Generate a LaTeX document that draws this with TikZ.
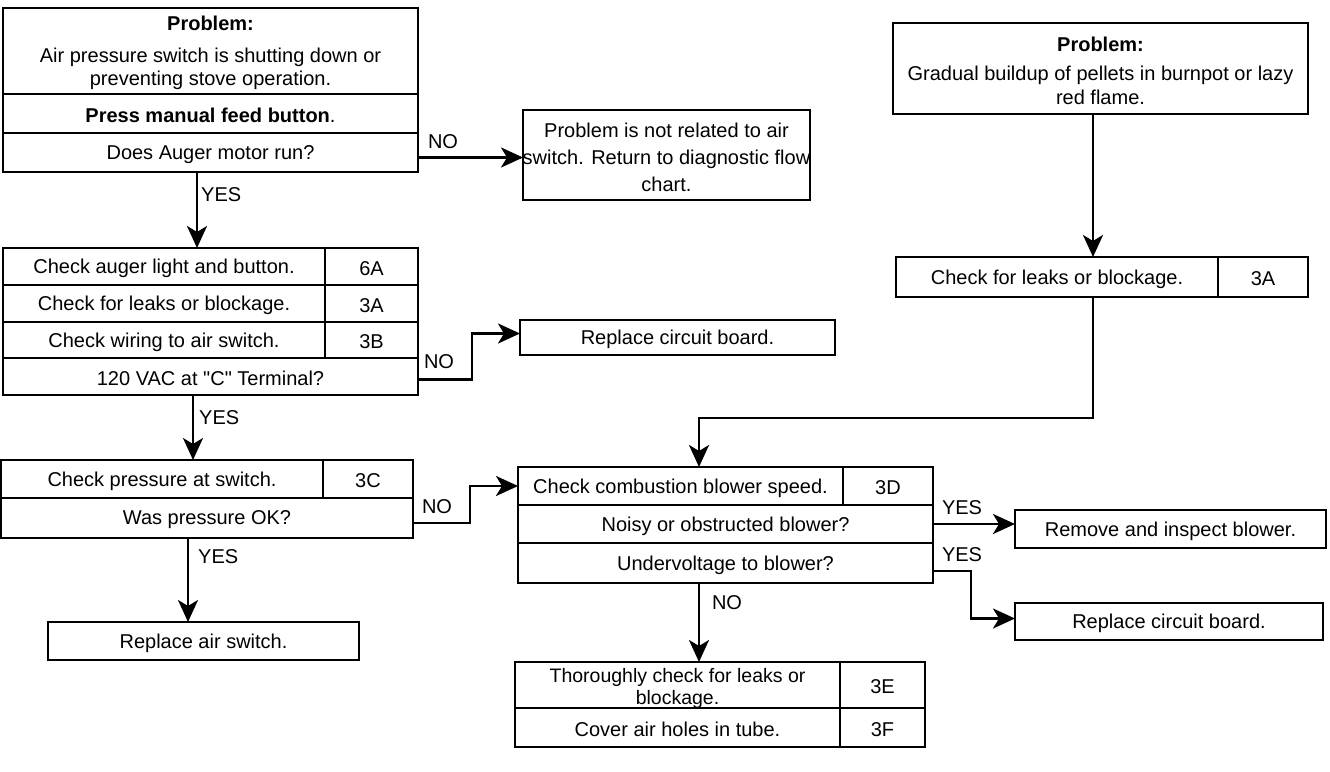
\documentclass[tikz,border=0pt]{standalone}
\usepackage{fontspec}
\setmainfont{Liberation Sans}[Ligatures=TeXOff]
\usetikzlibrary{arrows.meta,calc}
\newcommand\fs{\fontsize{20}{24}\selectfont}
\tikzset{
  cell/.style={draw, line width=1.3pt, inner sep=0pt, outer sep=0pt,
    anchor=north west},
  celltext/.style={font=\fs, align=center, inner sep=0pt},
  arr/.style={line width=2.8pt, line join=miter,
    -{Stealth[length=22pt,width=20pt,inset=6pt]}},
  lbl/.style={font=\fs, inner sep=0pt}
}
% box cell: [text options] name, left, top, width, height, text
\newcommand\cellbox[7][]{%
  \node[cell, minimum width=#5pt, minimum height=#6pt] (#2) at (#3,#4) {};
  \node[celltext, #1] (#2-t) at ([yshift=-2pt]#2.center) {#7};}
\begin{document}
\begin{tikzpicture}[x=1pt,y=-1pt]
\fill[white] (0,0) rectangle (1330,771);
\useasboundingbox (0,0) rectangle (1330,771);

% --- left column: air pressure switch problem
\cellbox[font=\fontsize{20}{23}\selectfont]{tlA}{3}{8}{415}{86}{\textbf{Problem:}\\[9pt]Air pressure switch is shutting down or\\preventing stove operation.}
\cellbox{tlB}{3}{94}{415}{39}{\textbf{Press manual feed button}.}
\cellbox{tlC}{3}{133}{415}{39}{Does Auger motor run?}

\cellbox[font=\fontsize{20}{27}\selectfont]{NR}{523}{110}{287}{90}{Problem is not related to air\\switch. Return to diagnostic flow\\chart.}

\cellbox{l2a}{3}{248}{322}{37}{Check auger light and button.}
\cellbox{l2aR}{325}{248}{93}{37}{6A}
\cellbox{l2b}{3}{285}{322}{37}{Check for leaks or blockage.}
\cellbox{l2bR}{325}{285}{93}{37}{3A}
\cellbox{l2c}{3}{322}{322}{36}{Check wiring to air switch.}
\cellbox{l2cR}{325}{322}{93}{36}{3B}
\cellbox{l2d}{3}{358}{415}{37}{120 VAC at "C" Terminal?}

\cellbox{RC1}{520}{320}{315}{35}{Replace circuit board.}

\cellbox{l3a}{1}{460}{322}{38}{Check pressure at switch.}
\cellbox{l3aR}{323}{460}{90}{38}{3C}
\cellbox{l3b}{1}{498}{412}{40}{Was pressure OK?}

\cellbox{RA}{48}{622}{311}{38}{Replace air switch.}

% --- right column: pellet buildup problem
\cellbox{RP}{893}{23}{415}{91}{\textbf{Problem:}\\[5pt]Gradual buildup of pellets in burnpot or lazy\\red flame.}
\cellbox{RLB}{896}{257}{322}{40}{Check for leaks or blockage.}
\cellbox{RLBn}{1218}{257}{90}{40}{3A}

% --- combustion blower checks
\cellbox{bla}{518}{467}{325}{38}{Check combustion blower speed.}
\cellbox{blaR}{843}{467}{90}{38}{3D}
\cellbox{blb}{518}{505}{415}{38}{Noisy or obstructed blower?}
\cellbox{blc}{518}{543}{415}{40}{Undervoltage to blower?}

\cellbox{RI}{1015}{510}{311}{38}{Remove and inspect blower.}
\cellbox{RC2}{1015}{603}{308}{37}{Replace circuit board.}

\cellbox[font=\fontsize{19.5}{22}\selectfont, yshift=-1pt]{bta}{515}{662}{325}{46}{Thoroughly check for leaks or\\blockage.}
\cellbox{btaR}{840}{662}{85}{46}{3E}
\cellbox{btb}{515}{708}{325}{39}{Cover air holes in tube.}
\cellbox{btbR}{840}{708}{85}{39}{3F}

% --- connectors
\coordinate (xa) at (197,0);
\coordinate (xb) at (193,0);
\coordinate (xc) at (188,0);
\coordinate (xd) at (1093,0);
\coordinate (xe) at (699,0);
\coordinate (ye) at (0,418);

\draw[arr] ([yshift=-5pt]tlC.east) -- ([yshift=-5pt]tlC.east -| NR.west);
\draw[arr] (tlC.south -| xa) -- (l2a.north -| xa);
\draw[arr] ([yshift=-3pt]l2d.east) -- ++(54,0) |- ([yshift=4pt]RC1.west);
\draw[arr] (l2d.south -| xb) -- (l3a.north -| xb);
\draw[arr] ([yshift=-5pt]l3b.east) -- ++(57,0) |- (bla.west);
\draw[arr] (l3b.south -| xc) -- (RA.north -| xc);
\draw[arr] (RP.south -| xd) -- (RLB.north -| xd);
\draw[arr] (RLB.south -| xd) -- (ye -| xd) -- (ye -| xe) -- (bla.north -| xe);
\draw[arr] (blb.east) -- (blb.east -| RI.west);
\draw[arr] ([yshift=-8pt]blc.east) -- ++(38,0) |- ([yshift=3pt]RC2.west);
\draw[arr] (blc.south -| xe) -- (bta.north -| xe);

% --- branch labels
\node[lbl] (n1) at (443,142) {NO};
\node[lbl, anchor=west] (y1) at (201,195) {YES};
\node[lbl] (n2) at (439,362) {NO};
\node[lbl, anchor=west] (y2) at (199,418) {YES};
\node[lbl] (n3) at (437,507) {NO};
\node[lbl, anchor=west] (y3) at (198,557) {YES};
\node[lbl] (y4) at (962,508) {YES};
\node[lbl] (y5) at (962,555) {YES};
\node[lbl] (n4) at (727,603) {NO};
\end{tikzpicture}
\end{document}
